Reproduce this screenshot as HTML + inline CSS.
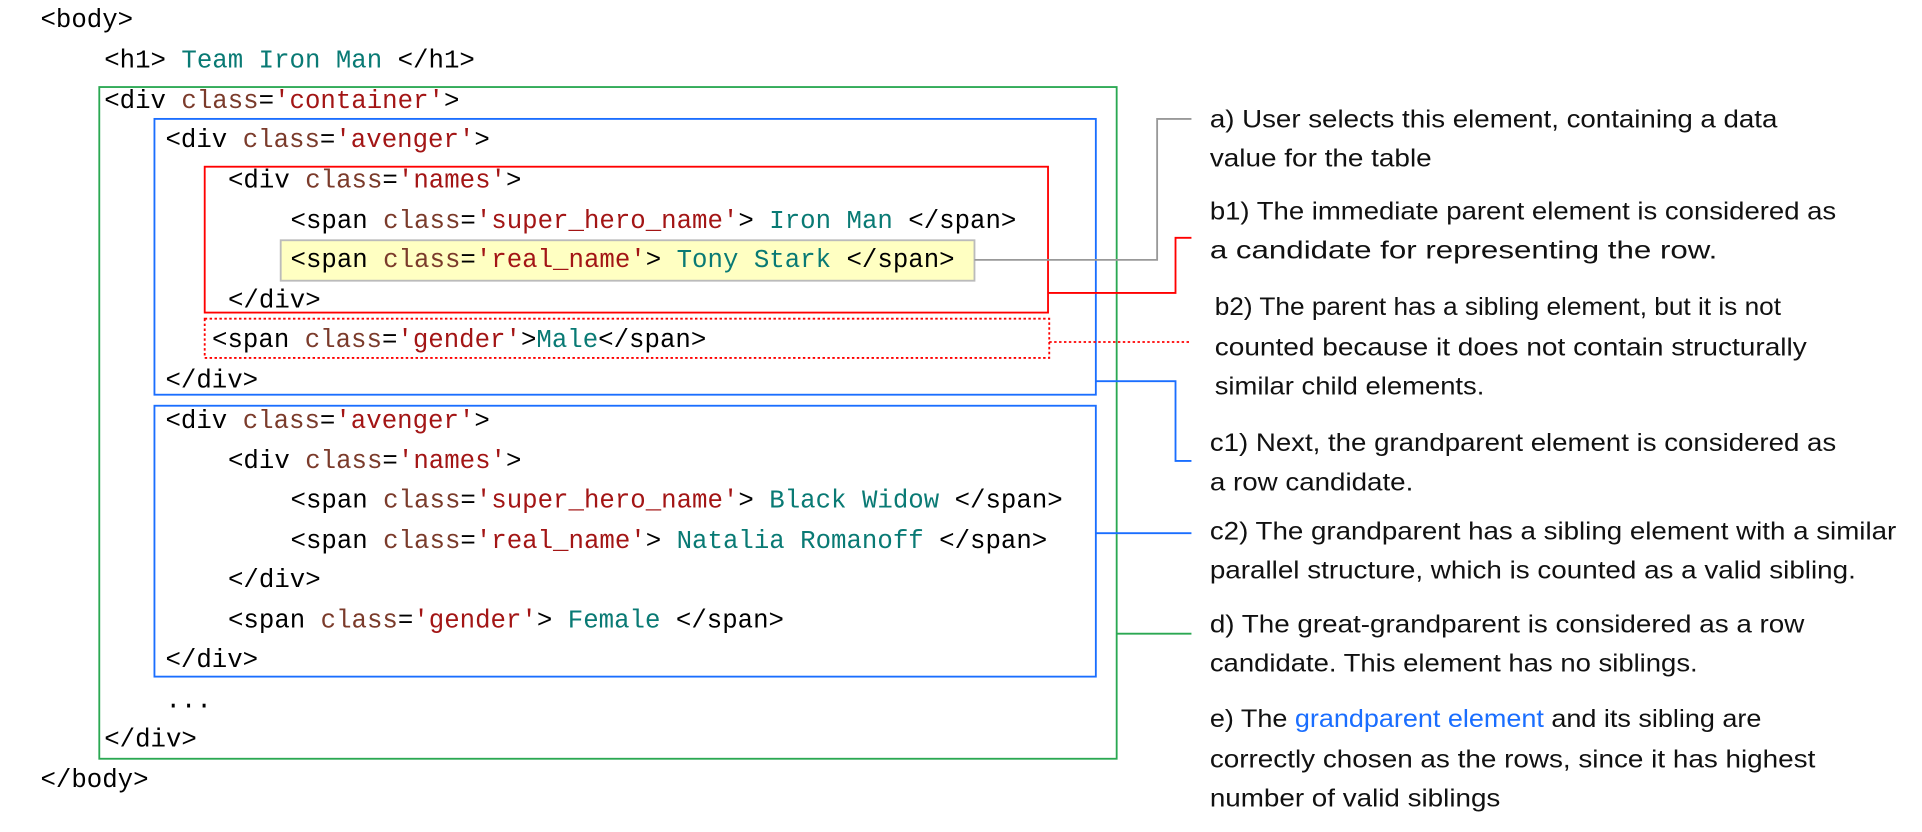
<!DOCTYPE html>
<html><head><meta charset="utf-8"><style>
html,body{margin:0;padding:0;background:#fff;width:1922px;height:832px;overflow:hidden}
svg{display:block}
.m{font-family:"Liberation Mono",monospace;font-size:21px;fill:#000}
.a{fill:#7b3b2b}.v{fill:#a31515}.c{fill:#097a74}
.t{font-family:"Liberation Sans",sans-serif;font-size:20px;fill:#111}
</style></head><body>
<svg width="1922" height="832" viewBox="0 0 1568 678.75" xmlns="http://www.w3.org/2000/svg">
<rect x="229" y="196" width="566" height="33" fill="#ffffc2" stroke="#bbb" stroke-width="1.5"/>
<rect x="81" y="71" width="830" height="548" fill="none" stroke="#2aa852" stroke-width="1.5"/>
<rect x="126" y="97" width="768" height="225" fill="none" stroke="#1a6eff" stroke-width="1.5"/>
<rect x="167" y="136" width="688" height="119" fill="none" stroke="#f00" stroke-width="1.5"/>
<rect x="167" y="260" width="689" height="32" fill="none" stroke="#f00" stroke-width="1.5" stroke-dasharray="2,2"/>
<rect x="126" y="331" width="768" height="221" fill="none" stroke="#1a6eff" stroke-width="1.5"/>
<polyline points="795,212 944,212 944,97 972,97" fill="none" stroke="#999" stroke-width="1.5"/>
<polyline points="855,239 959,239 959,194 972,194" fill="none" stroke="#f00" stroke-width="1.5"/>
<line x1="856" y1="279" x2="972" y2="279" stroke="#f00" stroke-width="1.5" stroke-dasharray="2,2"/>
<polyline points="894,311 959,311 959,376 972,376" fill="none" stroke="#1a6eff" stroke-width="1.5"/>
<line x1="894" y1="435" x2="972" y2="435" stroke="#1a6eff" stroke-width="1.5"/>
<line x1="911" y1="517" x2="972" y2="517" stroke="#2aa852" stroke-width="1.5"/>
<g class="m" xml:space="preserve">
<text x="33" y="22">&lt;body&gt;</text>
<text x="85" y="55">&lt;h1&gt; <tspan class="c">Team Iron Man</tspan> &lt;/h1&gt;</text>
<text x="85" y="88">&lt;div <tspan class="a">class</tspan>=<tspan class="v">'container'</tspan>&gt;</text>
<text x="135" y="120">&lt;div <tspan class="a">class</tspan>=<tspan class="v">'avenger'</tspan>&gt;</text>
<text x="186" y="153">&lt;div <tspan class="a">class</tspan>=<tspan class="v">'names'</tspan>&gt;</text>
<text x="237" y="186">&lt;span <tspan class="a">class</tspan>=<tspan class="v">'super_hero_name'</tspan>&gt; <tspan class="c">Iron Man</tspan> &lt;/span&gt;</text>
<text x="237" y="218">&lt;span <tspan class="a">class</tspan>=<tspan class="v">'real_name'</tspan>&gt; <tspan class="c">Tony Stark</tspan> &lt;/span&gt;</text>
<text x="186" y="251">&lt;/div&gt;</text>
<text x="173" y="283">&lt;span <tspan class="a">class</tspan>=<tspan class="v">'gender'</tspan>&gt;<tspan class="c">Male</tspan>&lt;/span&gt;</text>
<text x="135" y="316">&lt;/div&gt;</text>
<text x="135" y="349">&lt;div <tspan class="a">class</tspan>=<tspan class="v">'avenger'</tspan>&gt;</text>
<text x="186" y="382">&lt;div <tspan class="a">class</tspan>=<tspan class="v">'names'</tspan>&gt;</text>
<text x="237" y="414">&lt;span <tspan class="a">class</tspan>=<tspan class="v">'super_hero_name'</tspan>&gt;  <tspan class="c">Black Widow</tspan> &lt;/span&gt;</text>
<text x="237" y="447">&lt;span <tspan class="a">class</tspan>=<tspan class="v">'real_name'</tspan>&gt; <tspan class="c">Natalia Romanoff</tspan> &lt;/span&gt;</text>
<text x="186" y="479">&lt;/div&gt;</text>
<text x="186" y="512">&lt;span <tspan class="a">class</tspan>=<tspan class="v">'gender'</tspan>&gt; <tspan class="c">Female</tspan> &lt;/span&gt;</text>
<text x="135" y="544">&lt;/div&gt;</text>
<text x="135" y="577">...</text>
<text x="85" y="609">&lt;/div&gt;</text>
<text x="33" y="642">&lt;/body&gt;</text>
</g>
<g class="t">
<text x="987" y="104" textLength="463" lengthAdjust="spacingAndGlyphs">a) User selects this element, containing a data</text>
<text x="987" y="136" textLength="181" lengthAdjust="spacingAndGlyphs">value for the table</text>
<text x="987" y="179" textLength="511" lengthAdjust="spacingAndGlyphs">b1) The immediate parent element is considered as</text>
<text x="987" y="211" textLength="414" lengthAdjust="spacingAndGlyphs">a candidate for representing the row.</text>
<text x="991" y="257" textLength="462" lengthAdjust="spacingAndGlyphs">b2) The parent has a sibling element, but it is not</text>
<text x="991" y="290" textLength="483" lengthAdjust="spacingAndGlyphs">counted because it does not contain structurally</text>
<text x="991" y="322" textLength="220" lengthAdjust="spacingAndGlyphs">similar child elements.</text>
<text x="987" y="368" textLength="511" lengthAdjust="spacingAndGlyphs">c1) Next, the grandparent element is considered as</text>
<text x="987" y="400" textLength="166" lengthAdjust="spacingAndGlyphs">a row candidate.</text>
<text x="987" y="440" textLength="560" lengthAdjust="spacingAndGlyphs">c2) The grandparent has a sibling element with a similar</text>
<text x="987" y="472" textLength="527" lengthAdjust="spacingAndGlyphs">parallel structure, which is counted as a valid sibling.</text>
<text x="987" y="516" textLength="485" lengthAdjust="spacingAndGlyphs">d) The great-grandparent is considered as a row</text>
<text x="987" y="548" textLength="398" lengthAdjust="spacingAndGlyphs">candidate. This element has no siblings.</text>
<text x="987" y="593" textLength="450" lengthAdjust="spacingAndGlyphs">e) The <tspan fill="#1a6eff">grandparent element</tspan> and its sibling are</text>
<text x="987" y="626" textLength="494" lengthAdjust="spacingAndGlyphs">correctly chosen as the rows, since it has highest</text>
<text x="987" y="658" textLength="237" lengthAdjust="spacingAndGlyphs">number of valid siblings</text>
</g>
</svg>
</body></html>
